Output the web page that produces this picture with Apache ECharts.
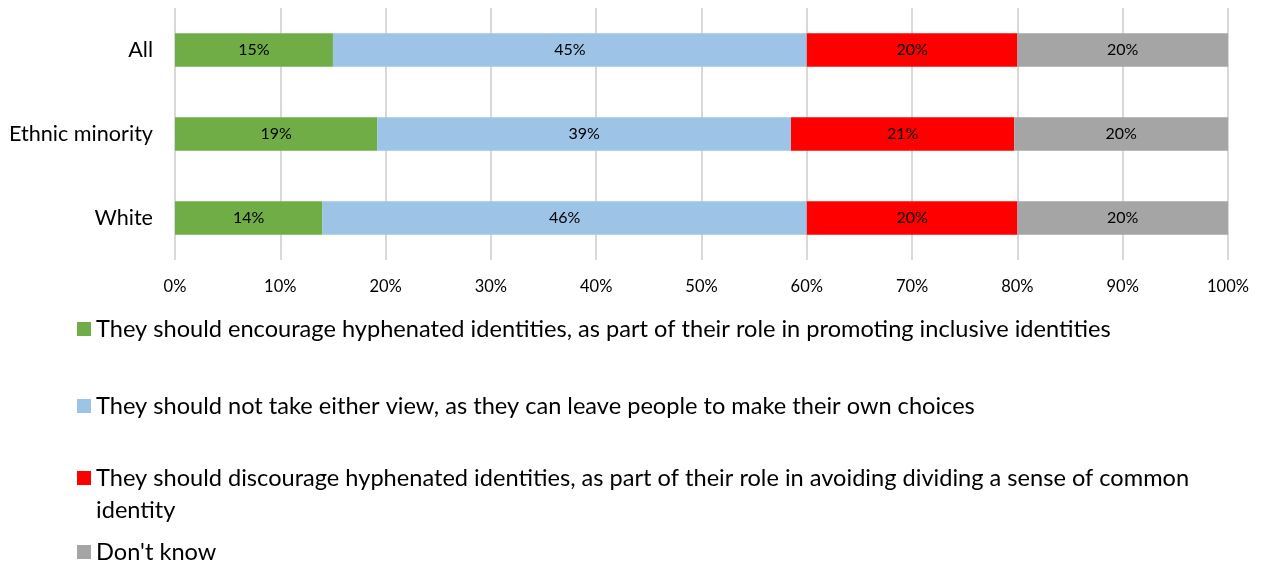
<!DOCTYPE html>
<html>
<head>
<meta charset="utf-8">
<script src="https://cdn.jsdelivr.net/npm/echarts@6/dist/echarts.min.js"></script>
<style>
  html, body { margin: 0; padding: 0; background: #ffffff; }
  #chart { width: 1261px; height: 567px; }
</style>
</head>
<body>
<div id="chart"></div>
<script>
// Groups shown as rows, top to bottom
const groups = ['All', 'Ethnic minority', 'White'];

// Response options (series names)
const seriesNames = [
  'They should encourage hyphenated identities, as part of their role in promoting inclusive identities',
  'They should not take either view, as they can leave people to make their own choices',
  'They should discourage hyphenated identities, as part of their role in avoiding dividing a sense of common identity',
  "Don't know"
];

// Shares (%) per group, in the order of groups
const encourageVals  = [15.0, 19.2, 14.0];
const neitherVals    = [45.0, 39.3, 46.0];
const discourageVals = [20.0, 21.2, 20.0];
const dontKnowVals   = [20.0, 20.3, 20.0];

// Axis tick labels
const tickValues = [0, 10, 20, 30, 40, 50, 60, 70, 80, 90, 100];

const colors = ['#70AD47', '#9DC3E6', '#FF0000', '#A5A5A5'];
const FONT = 'Lato';

const valueSets = [encourageVals, neitherVals, discourageVals, dontKnowVals];

const series = seriesNames.map((name, i) => ({
  name: name,
  type: 'bar',
  stack: 'total',
  barWidth: '40%',
  itemStyle: { color: colors[i] },
  label: {
    show: true,
    position: 'inside',
    color: '#000000',
    fontFamily: FONT,
    fontSize: 16,
    formatter: p => Math.round(p.value) + '%'
  },
  emphasis: { disabled: true },
  data: valueSets[i]
}));

// Long option text wraps after "common"; a leading blank line keeps the
// swatch level with the first printed line.
function legendText(name) {
  const cut = name.lastIndexOf(' identity');
  if (name.length > 105 && cut > 0) {
    return '\n' + name.slice(0, cut) + '\n' + name.slice(cut + 1);
  }
  return name;
}

// One legend block per option so each line sits where it belongs
const legendTops = [313, 390, 430, 536];
const legends = seriesNames.map((name, i) => ({
  data: [name],
  orient: 'vertical',
  left: 77,
  top: legendTops[i],
  padding: 0,
  itemWidth: 14,
  itemHeight: 14,
  icon: 'rect',
  selectedMode: false,
  formatter: legendText,
  textStyle: {
    fontFamily: FONT,
    fontSize: 23.6,
    color: '#000000',
    lineHeight: 32
  }
}));

const chart = echarts.init(document.getElementById('chart'), null, { renderer: 'canvas' });
chart.setOption({
  animation: false,
  color: colors,
  grid: { left: 175, right: 33, top: 8, bottom: 307, containLabel: false },
  legend: legends,
  xAxis: {
    type: 'value',
    min: tickValues[0],
    max: tickValues[tickValues.length - 1],
    interval: 10,
    axisLine: { show: false },
    axisTick: { show: false },
    axisLabel: {
      formatter: v => v + '%',
      fontFamily: FONT,
      fontSize: 16.5,
      color: '#000000',
      margin: 18
    },
    splitLine: { show: true, lineStyle: { color: '#D9D9D9', width: 2 } }
  },
  yAxis: {
    type: 'category',
    data: groups,
    inverse: true,
    axisLine: { show: false },
    axisTick: { show: false },
    axisLabel: {
      fontFamily: FONT,
      fontSize: 21.6,
      color: '#000000',
      margin: 22
    }
  },
  series: series
});
</script>
</body>
</html>
